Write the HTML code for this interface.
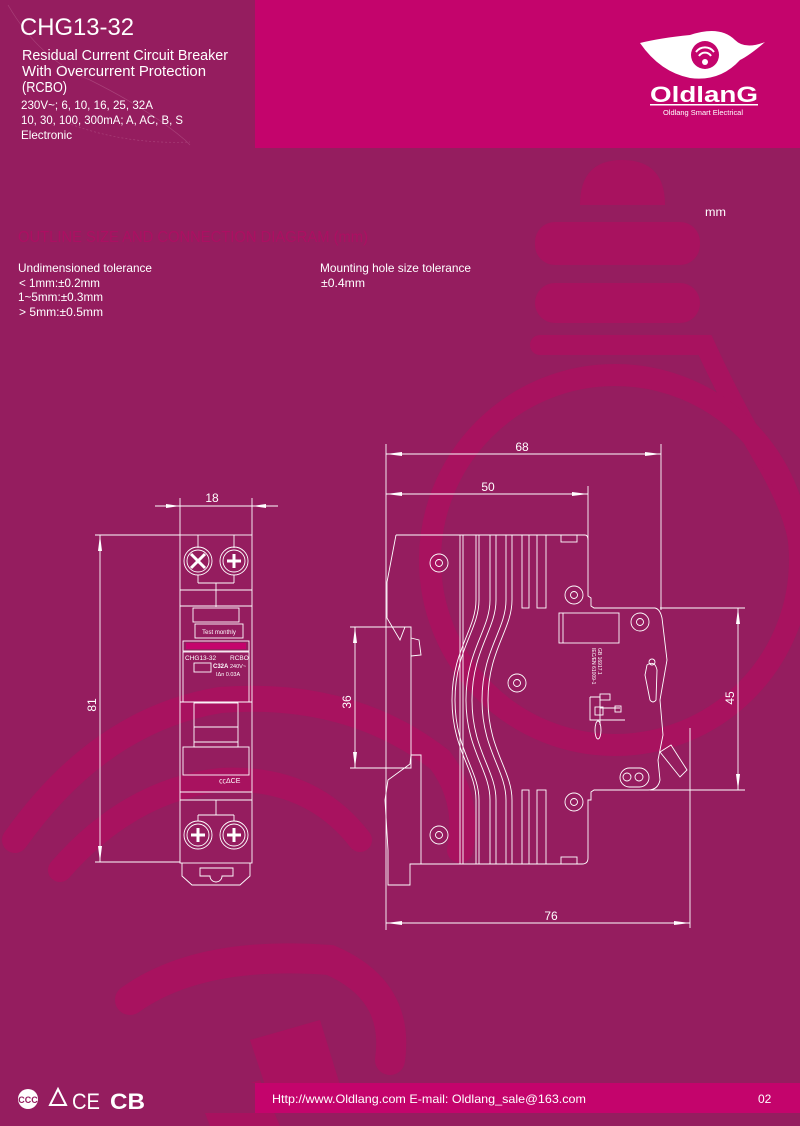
<!DOCTYPE html>
<html><head><meta charset="utf-8">
<style>
html,body{margin:0;padding:0;background:#951d5f;}
body{width:800px;height:1126px;overflow:hidden;position:relative;font-family:"Liberation Sans",sans-serif;}
svg{position:absolute;left:0;top:0;}
</style></head><body>
<svg width="800" height="1126" viewBox="0 0 800 1126" xmlns="http://www.w3.org/2000/svg">
<rect width="800" height="1126" fill="#951d5f"/>
<!-- background decorations -->
<g fill="none" stroke="#a8125f" stroke-width="20" stroke-linecap="round">
  <path d="M540,345 L705,345 Q730,400 765,460 Q800,520 800,560"/>
  <circle cx="615" cy="560" r="185" stroke-width="22"/>
  <path d="M15,840 Q100,720 220,700 Q350,690 440,760 Q470,800 460,850" stroke-width="26"/>
  <path d="M60,870 Q130,790 220,780 Q310,775 360,840" stroke-width="24"/>
  <path d="M130,1000 Q200,950 330,960 Q400,990 390,1060" stroke-width="30"/>
</g>
<g fill="#a8125f">
  <path d="M580,205 Q580,160 622,160 Q665,160 665,205 Z"/>
  <rect x="535" y="222" width="165" height="43" rx="20"/>
  <rect x="535" y="283" width="165" height="40" rx="20"/>
  <path d="M250,1040 L320,1020 L340,1085 L270,1100 Z"/>
  <path d="M200,1100 L260,1080 L280,1126 L210,1126 Z"/>
</g>
<!-- header -->
<rect x="0" y="0" width="255" height="148" fill="#951d5f"/>
<rect x="255" y="0" width="545" height="148" fill="#c4046c"/>
<path d="M8,5 Q40,60 90,80 Q150,110 185,140 L190,145" fill="none" stroke="#a84078" stroke-width="0.7"/>
<path d="M60,120 Q120,145 190,142" fill="none" stroke="#a84078" stroke-width="0.7" stroke-dasharray="2,2"/>
<g fill="#fff">
<text x="20" y="35" font-size="24" textLength="114" lengthAdjust="spacingAndGlyphs">CHG13-32</text>
<text x="22" y="60" font-size="15" textLength="206" lengthAdjust="spacingAndGlyphs">Residual Current Circuit Breaker</text>
<text x="22" y="76" font-size="15" textLength="184" lengthAdjust="spacingAndGlyphs">With Overcurrent Protection</text>
<text x="22" y="92" font-size="15" textLength="45" lengthAdjust="spacingAndGlyphs">(RCBO)</text>
<text x="21" y="109" font-size="12" textLength="132" lengthAdjust="spacingAndGlyphs">230V~;  6, 10, 16, 25, 32A</text>
<text x="21" y="124" font-size="12" textLength="162" lengthAdjust="spacingAndGlyphs">10, 30, 100, 300mA;  A, AC, B, S</text>
<text x="21" y="139" font-size="12" textLength="51" lengthAdjust="spacingAndGlyphs">Electronic</text>
</g>
<!-- logo -->
<g fill="#fff">
<path d="M640,43 Q660,38 690,35 Q720,25 735,40 Q745,50 765,42 Q750,55 740,60 Q720,82 690,78 Q660,72 640,43 Z"/>
<circle cx="705" cy="55" r="14" fill="#c4046c"/>
<path d="M696,52 a11,11 0 0 1 18,0 M699,56 a7,7 0 0 1 12,0" fill="none" stroke="#fff" stroke-width="2"/>
<circle cx="705" cy="62" r="3"/>
<text x="704" y="102" font-size="22" font-weight="bold" text-anchor="middle" textLength="108" lengthAdjust="spacingAndGlyphs">OldlanG</text>
<rect x="650" y="104" width="108" height="1.5"/>
<text x="703" y="115" font-size="7" text-anchor="middle" textLength="80" lengthAdjust="spacingAndGlyphs">Oldlang Smart Electrical</text>
</g>
<!-- section title -->
<text x="18" y="242" font-size="16" fill="#ac0f62" textLength="350" lengthAdjust="spacingAndGlyphs">OUTLINE SIZE AND CONNECTION DIAGRAM (mm)</text>
<g fill="#fff" font-size="12">
<text x="705" y="216" textLength="21" lengthAdjust="spacingAndGlyphs">mm</text>
<text x="18" y="272" textLength="134" lengthAdjust="spacingAndGlyphs">Undimensioned tolerance</text>
<text x="19" y="287" textLength="81" lengthAdjust="spacingAndGlyphs"> &lt; 1mm:±0.2mm</text>
<text x="18" y="301" textLength="85" lengthAdjust="spacingAndGlyphs">1~5mm:±0.3mm</text>
<text x="19" y="316" textLength="84" lengthAdjust="spacingAndGlyphs"> &gt; 5mm:±0.5mm</text>
<text x="320" y="272" textLength="151" lengthAdjust="spacingAndGlyphs">Mounting hole size tolerance</text>
<text x="321" y="287" textLength="44" lengthAdjust="spacingAndGlyphs">±0.4mm</text>
</g>

<!-- drawings -->
<g fill="none" stroke="#fff" stroke-width="0.9">
<line x1="180" y1="498" x2="180" y2="535"/><line x1="252" y1="498" x2="252" y2="535"/>
<line x1="155" y1="506" x2="278" y2="506"/>
<line x1="95" y1="535" x2="180" y2="535"/><line x1="95" y1="862" x2="180" y2="862"/>
<line x1="100" y1="535" x2="100" y2="862"/>
<rect x="180" y="535" width="72" height="328"/>
<line x1="198" y1="535" x2="198" y2="548"/><line x1="234" y1="535" x2="234" y2="548"/>
<circle cx="198" cy="561" r="14"/><circle cx="198" cy="561" r="11"/>
<circle cx="234" cy="561" r="14"/><circle cx="234" cy="561" r="11"/>
<path d="M191,554 L205,568 M205,554 L191,568 M227,561 L241,561 M234,554 L234,568" stroke-width="3"/>
<line x1="198" y1="575" x2="198" y2="583"/><line x1="234" y1="575" x2="234" y2="583"/>
<line x1="198" y1="583" x2="234" y2="583"/><line x1="216" y1="583" x2="216" y2="607"/>
<line x1="180" y1="590" x2="252" y2="590"/>
<line x1="180" y1="606" x2="252" y2="606"/>
<rect x="193" y="608" width="46" height="14"/>
<rect x="195" y="624" width="48" height="14"/>
<rect x="183" y="641" width="66" height="10"/>
<rect x="183" y="652" width="66" height="50"/>
<rect x="194" y="663" width="17" height="9"/>
<line x1="180" y1="702" x2="252" y2="702"/>
<rect x="194" y="703" width="44" height="44"/>
<line x1="194" y1="727" x2="238" y2="727"/><line x1="194" y1="742" x2="238" y2="742"/>
<rect x="183" y="747" width="66" height="28"/>
<line x1="180" y1="792" x2="252" y2="792"/><line x1="180" y1="800" x2="252" y2="800"/>
<line x1="216" y1="800" x2="216" y2="815"/>
<line x1="198" y1="815" x2="234" y2="815"/>
<line x1="198" y1="815" x2="198" y2="821"/><line x1="234" y1="815" x2="234" y2="821"/>
<circle cx="198" cy="835" r="14"/><circle cx="198" cy="835" r="11"/>
<circle cx="234" cy="835" r="14"/><circle cx="234" cy="835" r="11"/>
<path d="M191,835 L205,835 M198,828 L198,842 M227,835 L241,835 M234,828 L234,842" stroke-width="3"/>
<path d="M182,863 L182,876 L192,885 L240,885 L250,876 L250,863"/>
<path d="M200,868 L233,868 L233,876 L222,876 A6,6 0 0 1 210,876 L200,876 Z"/>

<line x1="386" y1="444" x2="386" y2="930"/>
<line x1="661" y1="444" x2="661" y2="610"/>
<line x1="386" y1="454" x2="661" y2="454"/>
<line x1="588" y1="486" x2="588" y2="540"/>
<line x1="386" y1="494" x2="588" y2="494"/>
<line x1="660" y1="608" x2="745" y2="608"/><line x1="650" y1="790" x2="745" y2="790"/>
<line x1="738" y1="608" x2="738" y2="790"/>
<line x1="690" y1="728" x2="690" y2="928"/>
<line x1="386" y1="923" x2="690" y2="923"/>
<line x1="350" y1="627" x2="411" y2="627"/><line x1="350" y1="768" x2="411" y2="768"/>
<line x1="355" y1="627" x2="355" y2="768"/>
<path d="M396,535 L585,535 Q588,535 588,540 L588,596 L591,598 L591,606 L594,608 L655,608 Q660,609 662,618 L667,660 L660,700 L663,735 L658,760 L660,780 Q658,790 648,790 L594,790 L591,792 L591,800 L588,800 L588,858 Q588,864 582,864 L421,864"/>
<path d="M396,535 L387,582 L387,618 L400,640 L405,627 L411,627 L411,768 L396,768"/>
<path d="M411,638 L419,640 L421,655 L411,656"/>
<path d="M421,755 L421,864 L410,864 L410,885 L388,885 L388,850 L385,800 L388,780 L410,764 L411,755 Z"/>
<line x1="460" y1="535" x2="460" y2="864"/><line x1="463" y1="535" x2="463" y2="864"/>
<path d="M476,535 L476,600 C476,630 452,650 452,700 C452,750 476,770 476,800 L476,864"/>
<path d="M479,535 L479,600 C479,630 455,650 455,700 C455,750 479,770 479,800 L479,864"/>
<path d="M490,535 L490,600 C490,630 466,650 466,700 C466,750 490,770 490,800 L490,864"/>
<path d="M496,535 L496,600 C496,630 472,650 472,700 C472,750 496,770 496,800 L496,864"/>
<path d="M506,535 L506,600 C506,630 482,650 482,700 C482,750 506,770 506,800 L506,864"/>
<path d="M512,535 L512,600 C512,630 488,650 488,700 C488,750 512,770 512,800 L512,864"/>
<rect x="522" y="535" width="7" height="73"/><rect x="537" y="535" width="9" height="73"/>
<rect x="522" y="790" width="7" height="74"/><rect x="537" y="790" width="9" height="74"/>
<rect x="561" y="535" width="16" height="7"/><rect x="561" y="857" width="16" height="7"/>
<rect x="559" y="613" width="60" height="30"/><line x1="563" y1="613" x2="563" y2="643"/>
<circle cx="439" cy="563" r="9"/><circle cx="439" cy="563" r="3.5"/>
<circle cx="574" cy="595" r="9"/><circle cx="574" cy="595" r="3.5"/>
<circle cx="517" cy="683" r="9"/><circle cx="517" cy="683" r="3.5"/>
<circle cx="439" cy="835" r="9"/><circle cx="439" cy="835" r="3.5"/>
<circle cx="574" cy="802" r="9"/><circle cx="574" cy="802" r="3.5"/>
<circle cx="640" cy="622" r="9"/><circle cx="640" cy="622" r="3.5"/>
<rect x="620" y="768" width="29" height="19" rx="9.5"/><circle cx="627" cy="777" r="4"/><circle cx="639" cy="777" r="4"/>
<path d="M647,665 Q655,660 657,670 L656,700 Q653,704 650,700 L645,675 Z"/><circle cx="652" cy="662" r="3"/>
<path d="M660,752 L671,745 L687,770 L680,777 Z"/>
<path d="M590,697 L600,697 L600,725 M590,697 L590,720 L625,720 M600,708 L620,708"/>
<rect x="600" y="694" width="10" height="6"/><rect x="595" y="707" width="8" height="8"/><rect x="615" y="706" width="6" height="6"/>
<ellipse cx="598" cy="730" rx="3" ry="9"/>
</g>
<g fill="#fff">
<path d="M180,506 l-14,-2 l0,4 Z"/><path d="M252,506 l14,-2 l0,4 Z"/>
<path d="M100,535 l-2,16 l4,0 Z"/><path d="M100,862 l-2,-16 l4,0 Z"/>
<path d="M386,454 l16,-2 l0,4 Z"/><path d="M661,454 l-16,-2 l0,4 Z"/>
<path d="M386,494 l16,-2 l0,4 Z"/><path d="M588,494 l-16,-2 l0,4 Z"/>
<path d="M738,608 l-2,16 l4,0 Z"/><path d="M738,790 l-2,-16 l4,0 Z"/>
<path d="M386,923 l16,-2 l0,4 Z"/><path d="M690,923 l-16,-2 l0,4 Z"/>
<path d="M355,627 l-2,16 l4,0 Z"/><path d="M355,768 l-2,-16 l4,0 Z"/>
</g>
<g fill="#fff" font-size="12">
<text x="212" y="502" text-anchor="middle">18</text>
<text x="522" y="451" text-anchor="middle">68</text>
<text x="488" y="491" text-anchor="middle">50</text>
<text x="551" y="920" text-anchor="middle">76</text>
<text transform="translate(96,705) rotate(-90)" text-anchor="middle">81</text>
<text transform="translate(351,702) rotate(-90)" text-anchor="middle">36</text>
<text transform="translate(734,698) rotate(-90)" text-anchor="middle">45</text>
<text x="219" y="634" font-size="6" text-anchor="middle">Test monthly</text>
<text x="185" y="660" font-size="6.5">CHG13-32</text>
<text x="230" y="660" font-size="6.5">RCBO</text>
<text x="213" y="668" font-size="6" font-weight="bold">C32A</text><text x="230" y="668" font-size="5.5">240V~</text>
<text x="216" y="676" font-size="5.5">IΔn 0.03A</text>
<text x="219" y="783" font-size="7">㏄ΔCE</text>
<text transform="translate(598,648) rotate(90)" font-size="5">GB 16917.1</text>
<text transform="translate(592,648) rotate(90)" font-size="5">IEC/EN 61009-1</text>
</g>
<g fill="#c4046c"><rect x="186" y="643" width="60" height="6"/></g>

<rect x="0" y="1083" width="255" height="30" fill="#951d5f"/>
<rect x="255" y="1083" width="545" height="30" fill="#c4046c"/>
<g fill="#fff">
<circle cx="28" cy="1099" r="10"/><text x="28" y="1103" font-size="9" fill="#951d5f" text-anchor="middle" font-weight="bold">CCC</text>
<path d="M58,1089 L66,1105 L50,1105 Z" fill="none" stroke="#fff" stroke-width="2"/>
<text x="72" y="1109" font-size="22" textLength="28" lengthAdjust="spacingAndGlyphs">CE</text>
<text x="110" y="1109" font-size="22" font-weight="bold" textLength="35" lengthAdjust="spacingAndGlyphs">CB</text>
<text x="272" y="1103" font-size="12" textLength="314" lengthAdjust="spacingAndGlyphs">Http://www.Oldlang.com   E-mail: Oldlang_sale@163.com</text>
<text x="758" y="1103" font-size="12">02</text>
</g>
</svg>
</body></html>
